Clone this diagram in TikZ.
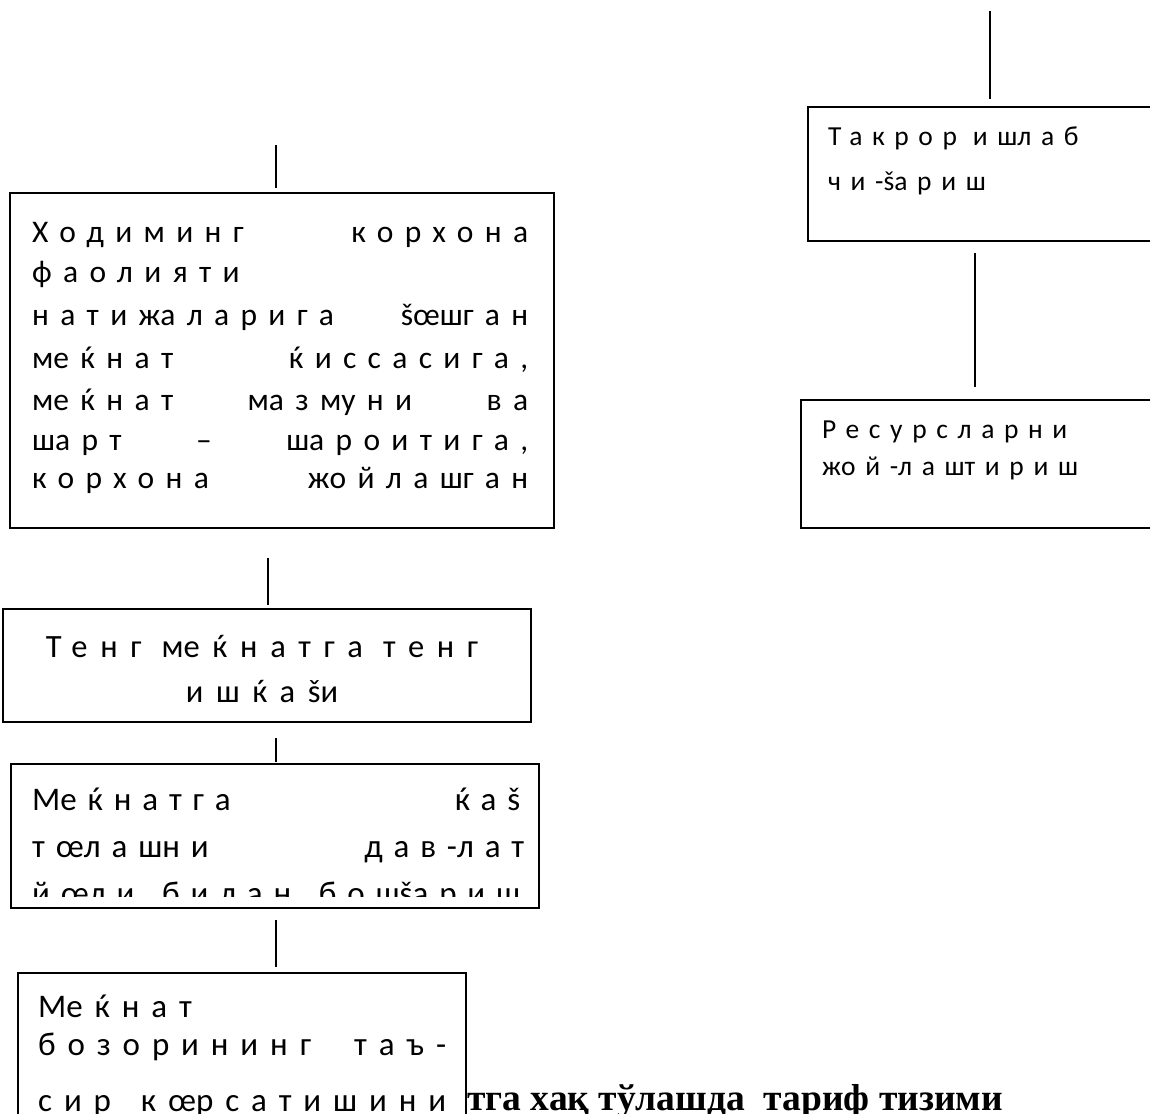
\documentclass[tikz,border=0pt]{standalone}
\usepackage{fontspec}
\newfontfamily\carlA[LetterSpace=36]{Carlito}
\newfontfamily\carlB[LetterSpace=39]{Carlito}
\newfontfamily\carlC[LetterSpace=33]{Carlito}
\newfontfamily\carlD[LetterSpace=36]{Carlito}
\newfontfamily\carlT[LetterSpace=35]{Carlito}
\newfontfamily\tnr{Liberation Serif}
\newcommand\tgap{\kern0pt\relax}
\begin{document}
\begin{tikzpicture}[x=1pt,y=-1pt,
  box/.style={draw, line width=2pt, fill=white, inner sep=0pt, anchor=north west},
  conn/.style={line width=1.6pt},
  tx/.style={inner sep=0pt, anchor=base west},
  fa/.style={font=\carlA\fontsize{31.5}{37}\selectfont},
  fb/.style={font=\carlB\fontsize{32.5}{38}\selectfont},
  fc/.style={font=\carlC\fontsize{33}{39}\selectfont},
  fd/.style={font=\carlD\fontsize{33}{39}\selectfont},
  ft/.style={font=\carlT\fontsize{27.5}{33}\selectfont},
]
\useasboundingbox (0,0) rectangle (1150,1113);
\clip (0,0) rectangle (1150,1113);
\fill[white] (0,0) rectangle (1150,1113);

% bold text partly hidden behind the last box
\node[tx, font=\tnr\bfseries\fontsize{37.5}{44}\selectfont] (bold) at (467,1110) {тга хақ тўлашда\ \ тариф тизими};

% boxes
\node[box, minimum width=353pt, minimum height=134pt] (bT) at (807,106) {};
\node[box, minimum width=360pt, minimum height=128pt] (bR) at (800,399) {};
\node[box, minimum width=544pt, minimum height=335pt] (bA) at (9,192) {};
\node[box, minimum width=528pt, minimum height=113pt] (bB) at (2,608) {};
\node[box, minimum width=528pt, minimum height=144pt] (bC) at (10,763) {};
\node[box, minimum width=448pt, minimum height=160pt] (bD) at (17,972) {};

% right column texts
\node[tx, ft] (t1) at (828,145) {Такрор иш\tgap лаб};
\node[tx, ft] (t2) at (828,190) {чи-\tgap š\tgap ариш};
\node[tx, ft] (r1) at (822,438) {Ресурсларни};
\node[tx, ft] (r2) at (822,475) {ж\tgap ой-\tgap лаш\tgap тириш};

% box A
\node[tx, fa] (a1) at (32,242) {\makebox[496pt][l]{Ходиминг\hfill корхона}};
\node[tx, fa] (a2) at (32,282) {фаолияти};
\node[tx, fa] (a3) at (32,325) {\makebox[496pt][l]{натиж\tgap аларига\hfill š\tgap œ\tgap ш\tgap ган}};
\node[tx, fa] (a4) at (32,368) {\makebox[496pt][l]{м\tgap еќнат\hfill ќиссасига,}};
\node[tx, fa] (a5) at (32,410) {\makebox[496pt][l]{м\tgap еќнат\hfill м\tgap азм\tgap уни\hfill ва}};
\node[tx, fa] (a6) at (32,450) {\makebox[496pt][l]{ш\tgap арт\hfill –\hfill ш\tgap ароитига,}};
\node[tx, fa] (a7) at (32,488) {\makebox[496pt][l]{корхона\hfill ж\tgap ойлаш\tgap ган}};

% box B
\node[inner sep=0pt, anchor=base, fb] (b1) at (262,657) {Тенг м\tgap еќнатга тенг};
\node[inner sep=0pt, anchor=base, fb] (b2) at (262,702) {ишќаš\tgap и};

% box C
\node[tx, fc] (c1) at (32,810) {\makebox[488pt][l]{М\tgap еќнатга\hfill ќаš}};
\node[tx, fc] (c2) at (32,857) {\makebox[492pt][l]{тœ\tgap лаш\tgap ни\hfill дав-\tgap лат}};
\begin{scope}
\clip (10,763) rectangle (538,896);
\node[tx, fc] (c3) at (32,904) {\makebox[488pt][l]{йœ\tgap ли\hfill билан\hfill бош\tgap š\tgap ариш}};
\end{scope}

% box D
\node[tx, fd] (d1) at (38,1017) {М\tgap еќнат};
\node[tx, fd] (d2) at (38,1055) {\makebox[408pt][l]{бозорининг\hfill таъ-}};
\node[tx, fd] (d3) at (38,1111) {\makebox[408pt][l]{сир\hfill кœ\tgap рсатишини}};

% connectors
\coordinate (L0a) at (990,11);  \coordinate (L0b) at (990,99);
\coordinate (L1a) at (975,253); \coordinate (L1b) at (975,387);
\coordinate (L2a) at (276,145); \coordinate (L2b) at (276,188);
\coordinate (L3a) at (268,558); \coordinate (L3b) at (268,605);
\coordinate (L4a) at (276,738); \coordinate (L4b) at (276,762);
\coordinate (L5a) at (276,920); \coordinate (L5b) at (276,967);
\draw[conn] (L0a) -- (L0b);
\draw[conn] (L1a) -- (L1b);
\draw[conn] (L2a) -- (L2b);
\draw[conn] (L3a) -- (L3b);
\draw[conn] (L4a) -- (L4b);
\draw[conn] (L5a) -- (L5b);
\end{tikzpicture}
\end{document}
